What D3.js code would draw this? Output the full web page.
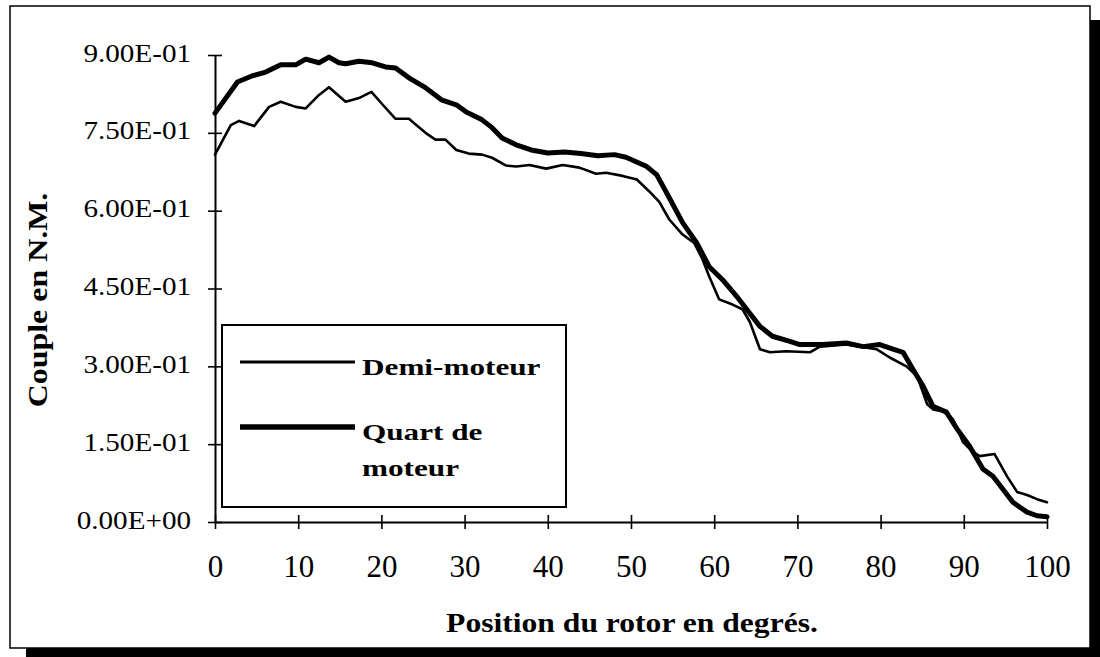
<!DOCTYPE html>
<html>
<head>
<meta charset="utf-8">
<script src="https://cdn.jsdelivr.net/npm/d3@7"></script>
<style>
  html, body { margin: 0; padding: 0; background: #fff; }
  svg { display: block; }
  text { font-family: "Liberation Serif", "Times New Roman", serif; fill: #000; }
</style>
</head>
<body>
<svg id="chart" width="1100" height="657"></svg>
<script>
// Rotor position (degrees) and torque (N.m) for the half-motor model
const demiPos = [0, 1.9, 2.9, 4.7, 6.5, 7.9, 9.7, 10.9, 12.5, 13.7, 15.7, 17.3, 18.8, 20, 21.7, 23.3,
  25.3, 26.5, 27.7, 29, 30.5, 32.1, 33.3, 35, 36.2, 37.8, 39.8, 41.8, 43.8, 45.8, 47, 49, 50.7,
  52.2, 53.4, 54.6, 56.2, 57.6, 58.6, 59.4, 60.6, 62.2, 63.4, 64.3, 65.5, 66.7, 68.7, 71.5, 72.7,
  75.9, 79.5, 81.1, 83.1, 84.4, 85.6, 86.3, 87.5, 88.7, 89.9, 91.1, 91.9, 93.7, 95.2, 96.4, 97.6,
  98.8, 100];
const demiVal = [0.708, 0.765, 0.773, 0.763, 0.800, 0.810, 0.800, 0.797, 0.823, 0.838, 0.810, 0.817,
  0.829, 0.807, 0.777, 0.777, 0.750, 0.737, 0.737, 0.717, 0.710, 0.708, 0.702, 0.687, 0.685, 0.688,
  0.681, 0.688, 0.683, 0.671, 0.673, 0.667, 0.660, 0.637, 0.617, 0.583, 0.554, 0.538, 0.506, 0.473,
  0.429, 0.419, 0.410, 0.385, 0.333, 0.327, 0.329, 0.327, 0.338, 0.342, 0.333, 0.317, 0.300, 0.281,
  0.227, 0.217, 0.213, 0.198, 0.154, 0.135, 0.127, 0.131, 0.088, 0.058, 0.052, 0.044, 0.038];

// Rotor position (degrees) and torque (N.m) for the quarter-motor model
const quartPos = [0, 2.7, 4.5, 6.1, 7.9, 9.7, 10.9, 12.5, 13.7, 14.9, 15.7, 17.3, 18.9, 20.5, 21.7,
  23.3, 25.3, 27.3, 29, 30.2, 32.1, 33.3, 34.5, 36.2, 38, 40, 42, 44, 46, 48, 49.4, 51.9, 53.1, 54.6,
  56.2, 57.9, 59.4, 61, 62.7, 63.9, 65.5, 67, 69.1, 70.3, 73, 75.9, 77.9, 79.9, 81.5, 82.7, 83.9,
  85.1, 86.3, 87.9, 89.2, 90.7, 92.3, 93.5, 94.7, 95.9, 97.6, 98.8, 100];
const quartVal = [0.788, 0.848, 0.860, 0.867, 0.881, 0.881, 0.892, 0.885, 0.896, 0.885, 0.883, 0.888,
  0.885, 0.877, 0.875, 0.856, 0.837, 0.813, 0.804, 0.790, 0.775, 0.760, 0.740, 0.727, 0.717, 0.711,
  0.713, 0.710, 0.706, 0.708, 0.703, 0.685, 0.669, 0.625, 0.577, 0.538, 0.492, 0.467, 0.435, 0.410,
  0.377, 0.358, 0.348, 0.342, 0.342, 0.345, 0.338, 0.342, 0.333, 0.327, 0.294, 0.262, 0.223, 0.212,
  0.179, 0.146, 0.102, 0.088, 0.063, 0.038, 0.019, 0.012, 0.010];

const xTicks = [0, 10, 20, 30, 40, 50, 60, 70, 80, 90, 100];
const yTicks = [0, 0.15, 0.30, 0.45, 0.60, 0.75, 0.90];

const seriesNames = ["Demi-moteur", "Quart de moteur"];
const xTitle = "Position du rotor en degrés.";
const yTitle = "Couple en N.M.";

const svg = d3.select("#chart");
const W = 1100, H = 657;
const plot = { left: 215, right: 1047, top: 55, bottom: 522 };

const x = d3.scaleLinear().domain([0, 100]).range([plot.left, plot.right]);
const y = d3.scaleLinear().domain([0, 0.9]).range([plot.bottom, plot.top]);

// Widen a text run along its own direction by factor k
function stretch(sel, k) {
  sel.each(function () {
    const w = this.getComputedTextLength();
    d3.select(this).attr("textLength", w * k).attr("lengthAdjust", "spacingAndGlyphs");
  });
}

// "9.00E-01" style scientific labels
function sci(v) {
  const parts = v.toExponential(2).split("e");
  const e = +parts[1];
  return parts[0] + "E" + (e < 0 ? "-" : "+") + String(Math.abs(e)).padStart(2, "0");
}

// Page background and framed border with a drop shadow
svg.append("rect").attr("width", W).attr("height", H).attr("fill", "#fff");
svg.append("rect").attr("x", 1090).attr("y", 20).attr("width", 10).attr("height", H - 20).attr("fill", "#000");
svg.append("rect").attr("x", 26).attr("y", 648).attr("width", W - 26).attr("height", 9).attr("fill", "#000");
svg.append("rect").attr("x", 10).attr("y", 6).attr("width", 1080).attr("height", 642)
  .attr("fill", "none").attr("stroke", "#000").attr("stroke-width", 1.5);

// Y axis with ticks crossing the axis line
const yAxis = svg.append("g").attr("transform", `translate(${plot.left},0)`)
  .call(d3.axisLeft(y).tickValues(yTicks).tickFormat(sci).tickSize(7).tickPadding(17).tickSizeOuter(0));
yAxis.select(".domain").attr("stroke-width", 2);
yAxis.selectAll(".tick line").attr("x1", 7).attr("stroke-width", 1.6);
yAxis.selectAll(".tick text")
  .attr("font-size", 26).attr("dy", null).attr("y", 6)
  .style("font-family", '"Liberation Serif", "Times New Roman", serif')
  .call(stretch, 1.12);

// X axis with ticks crossing the axis line
const xAxis = svg.append("g").attr("transform", `translate(0,${plot.bottom})`)
  .call(d3.axisBottom(x).tickValues(xTicks).tickFormat(d3.format("d")).tickSize(7).tickSizeOuter(0));
xAxis.select(".domain").attr("stroke-width", 2);
xAxis.selectAll(".tick line").attr("y1", -7).attr("stroke-width", 1.6);
xAxis.selectAll(".tick text")
  .attr("font-size", 31).attr("dy", null).attr("y", 55)
  .style("font-family", '"Liberation Serif", "Times New Roman", serif');

// Axis titles
svg.append("text").attr("x", 632).attr("y", 632).attr("text-anchor", "middle")
  .attr("font-size", 27).attr("font-weight", "bold").text(xTitle).call(stretch, 1.17);
svg.append("text").attr("transform", "translate(47,300) rotate(-90)").attr("text-anchor", "middle")
  .attr("font-size", 28).attr("font-weight", "bold").text(yTitle).call(stretch, 1.14);

// Torque curves
const line = d3.line().x(d => x(d[0])).y(d => y(d[1])).curve(d3.curveLinear);
const demi = demiPos.map((p, i) => [p, demiVal[i]]);
const quart = quartPos.map((p, i) => [p, quartVal[i]]);

svg.append("path").datum(demi).attr("d", line)
  .attr("fill", "none").attr("stroke", "#000").attr("stroke-width", 2.6)
  .attr("stroke-linejoin", "round").attr("stroke-linecap", "round");
svg.append("path").datum(quart).attr("d", line)
  .attr("fill", "none").attr("stroke", "#000").attr("stroke-width", 5)
  .attr("stroke-linejoin", "round").attr("stroke-linecap", "round");

// Legend
const lg = svg.append("g");
lg.append("rect").attr("x", 222).attr("y", 325).attr("width", 344).attr("height", 182)
  .attr("fill", "#fff").attr("stroke", "#000").attr("stroke-width", 2);
lg.append("line").attr("x1", 240).attr("x2", 355).attr("y1", 362).attr("y2", 362)
  .attr("stroke", "#000").attr("stroke-width", 2.8);
lg.append("line").attr("x1", 240).attr("x2", 355).attr("y1", 427).attr("y2", 427)
  .attr("stroke", "#000").attr("stroke-width", 5.5);
lg.append("text").attr("x", 362).attr("y", 375).attr("font-size", 24).attr("font-weight", "bold")
  .text(seriesNames[0]).call(stretch, 1.3);
const q = seriesNames[1].split(" ");
lg.append("text").attr("x", 362).attr("y", 440).attr("font-size", 24).attr("font-weight", "bold")
  .text(q.slice(0, 2).join(" ")).call(stretch, 1.3);
lg.append("text").attr("x", 362).attr("y", 476).attr("font-size", 24).attr("font-weight", "bold")
  .text(q.slice(2).join(" ")).call(stretch, 1.3);
</script>
</body>
</html>
